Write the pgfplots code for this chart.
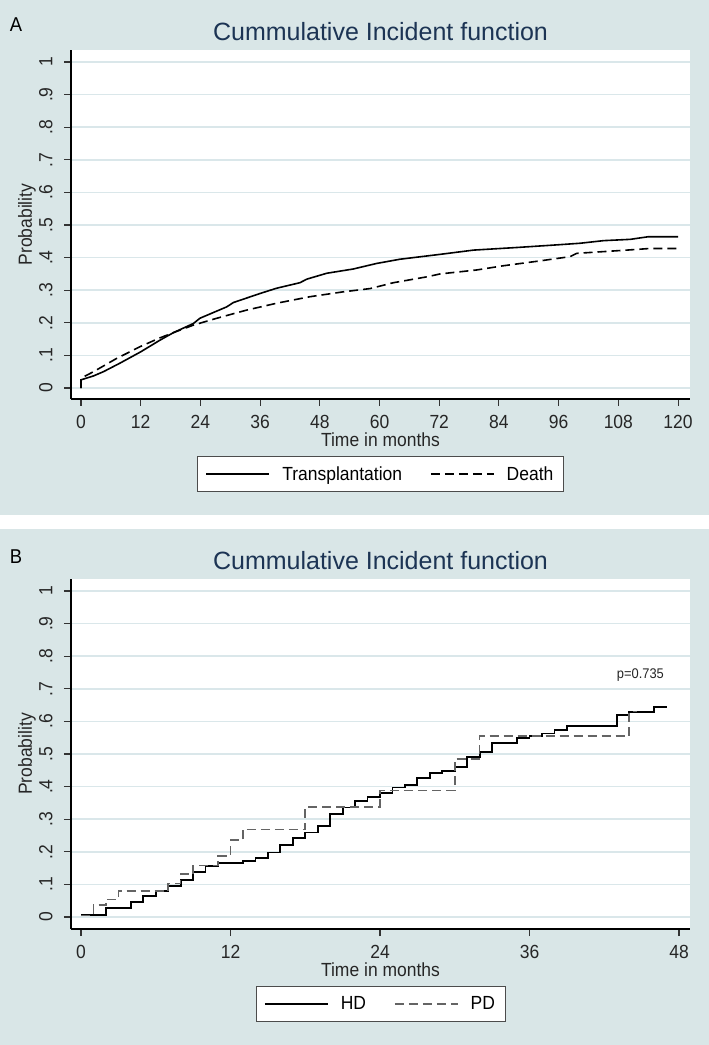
\documentclass[border=0pt]{standalone}
\usepackage{fontspec}
\setmainfont{Liberation Sans}[FakeStretch=0.92]
\newfontfamily\titlefont{Liberation Sans}
\usepackage{pgfplots}
\pgfplotsset{compat=1.18}
\definecolor{bgc}{RGB}{217,230,231}
\definecolor{gridc}{RGB}{218,231,234}
\definecolor{navy}{RGB}{28,52,84}
\definecolor{pdgray}{RGB}{100,100,100}

\pgfplotsset{
  stata/.style={
    scale only axis, width=619pt, height=349pt,
    axis x line=bottom, axis y line=left,
    axis line style={-, line width=1.2pt, black},
    axis background/.style={fill=white},
    ymajorgrids, grid style={gridc, line width=1.6pt},
    tick align=outside, major tick length=7pt,
    every tick/.style={black!80, line width=1.1pt},
    ytick={0,0.1,0.2,0.3,0.4,0.5,0.6,0.7,0.8,0.9,1},
    yticklabels={0,.1,.2,.3,.4,.5,.6,.7,.8,.9,1},
    yticklabel shift=8pt, xticklabel shift=6pt,
    yticklabel style={rotate=90, anchor=south, font=\fontsize{19}{21}\selectfont, black!85},
    xticklabel style={font=\fontsize{19}{21}\selectfont, black!85},
    /pgf/number format/assume math mode=true,
    ylabel={Probability},
    ylabel style={at={(axis description cs:-0.071,0.5)}, anchor=center, font=\fontsize{19}{21}\selectfont, black!85},
    xlabel={Time in months},
    xlabel style={at={(axis description cs:0.5,0)}, anchor=center, yshift=-41pt, font=\fontsize{19}{21}\selectfont, black!85},
    title={Cummulative Incident function},
    title style={at={(axis description cs:0.5,1)}, anchor=center, yshift=12pt, font=\titlefont\fontsize{25}{28}\selectfont, text=navy},
    legend columns=2,
    legend style={at={(axis description cs:0.5,0)}, anchor=center, yshift=-75pt,
      draw=black!70, line width=0.8pt, fill=white,
      font=\fontsize{19}{21}\selectfont, inner xsep=8pt, inner ysep=8pt,
      /tikz/every odd column/.append style={column sep=10pt},
      /tikz/every even column/.append style={column sep=26pt}},
    legend image code/.code={\draw[#1] (0pt,0pt) -- (63pt,0pt);},
  }
}

\begin{document}
\begin{tikzpicture}
\path[use as bounding box] (0pt,0pt) rectangle (709pt,1045pt);
\fill[white] (0pt,0pt) rectangle (709pt,1045pt);
\fill[bgc] (0pt,530pt) rectangle (709pt,1045pt);
\fill[bgc] (0pt,0pt) rectangle (709pt,516pt);
\node at (16pt,1020pt) {\fontsize{20}{22}\selectfont A};
\node at (16pt,488pt) {\fontsize{20}{22}\selectfont B};

\begin{axis}[stata, at={(71pt,646pt)}, anchor=south west,
  xmin=-2.01, xmax=122.4, ymin=-0.0337, ymax=1.0368,
  xtick={0,12,24,36,48,60,72,84,96,108,120}]
\addplot[black, line width=1.6pt, sharp plot] coordinates {
(0,0) (0,0.025) (2.5,0.037) (4.5,0.05) (7.8,0.076) (12,0.111) (15.9,0.147) (18.6,0.17) (22.6,0.198) (23.9,0.214) (29.3,0.249) (30.6,0.262) (36,0.29) (39.3,0.306) (44,0.323) (45.4,0.334) (49.4,0.352) (54.7,0.365) (59.4,0.382) (64.1,0.395) (69.5,0.405) (72.2,0.41) (78.9,0.423) (87.6,0.431) (95.6,0.439) (100.3,0.444) (105,0.452) (110.4,0.456) (114,0.464) (120,0.464)};
\addlegendentry{Transplantation}
\addplot[black, line width=1.6pt, sharp plot, dash pattern=on 9pt off 5pt] coordinates {
(0,0) (0,0.03) (2.5,0.05) (7.2,0.091) (11.9,0.127) (15.9,0.154) (18.6,0.17) (22.6,0.193) (27.3,0.214) (33.3,0.239) (39.3,0.26) (46,0.28) (52.7,0.295) (58.1,0.305) (62.8,0.323) (69.5,0.341) (72.2,0.35) (79.5,0.362) (84.9,0.375) (92.3,0.39) (98.3,0.403) (99.6,0.413) (109.7,0.423) (114.4,0.428) (120,0.428)};
\addlegendentry{Death}
\end{axis}

\begin{axis}[stata, at={(71pt,116pt)}, anchor=south west, height=350pt,
  xmin=-0.803, xmax=48.88, ymin=-0.0368, ymax=1.0368,
  xtick={0,12,24,36,48}]
\addplot[black, line width=1.8pt, const plot] coordinates {
(0,0.007) (2,0.027) (4,0.045) (5,0.064) (6,0.080) (7,0.094) (8,0.114) (9,0.139) (10,0.157) (11,0.166) (13,0.172) (14,0.180) (15,0.198) (16,0.221) (17,0.243) (18,0.259) (19,0.279) (20,0.316) (21,0.336) (22,0.357) (23,0.369) (24,0.381) (25,0.397) (26,0.405) (27,0.427) (28,0.441) (29,0.448) (30,0.459) (31,0.492) (32,0.507) (33,0.533) (35,0.548) (36,0.555) (37,0.563) (38,0.573) (39,0.587) (43,0.620) (44,0.630) (46,0.645) (47,0.645)};
\addlegendentry{HD}
\addplot[pdgray, line width=1.6pt, const plot, dash pattern=on 9pt off 5pt] coordinates {
(0,0.005) (1,0.037) (2,0.054) (3,0.080) (7,0.103) (8,0.131) (9,0.158) (11,0.187) (12,0.236) (13,0.269) (18,0.338) (24,0.388) (30,0.485) (32,0.555) (44,0.630) (44.6,0.630)};
\addlegendentry{PD}
\node[font=\fontsize{14}{16}\selectfont, black!85] at (axis cs:44.9,0.742) {p=0.735};
\end{axis}
\end{tikzpicture}
\end{document}
